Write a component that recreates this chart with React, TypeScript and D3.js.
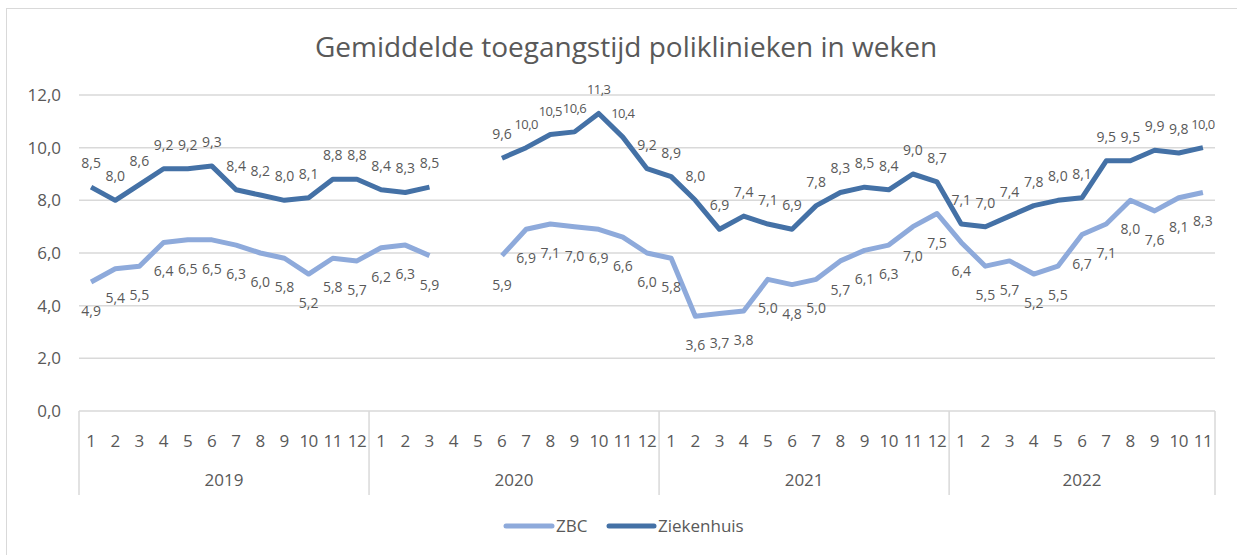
import React from 'react';
import * as d3 from 'd3';

const years = ['2019', '2020', '2021', '2022'];
const monthsPerYear = [12, 12, 12, 11];

// null = geen meting (april/mei 2020)
const ziekenhuis: (number | null)[] = [
  8.5, 8.0, 8.6, 9.2, 9.2, 9.3, 8.4, 8.2, 8.0, 8.1, 8.8, 8.8,
  8.4, 8.3, 8.5, null, null, 9.6, 10.0, 10.5, 10.6, 11.3, 10.4, 9.2,
  8.9, 8.0, 6.9, 7.4, 7.1, 6.9, 7.8, 8.3, 8.5, 8.4, 9.0, 8.7,
  7.1, 7.0, 7.4, 7.8, 8.0, 8.1, 9.5, 9.5, 9.9, 9.8, 10.0,
];
const zbc: (number | null)[] = [
  4.9, 5.4, 5.5, 6.4, 6.5, 6.5, 6.3, 6.0, 5.8, 5.2, 5.8, 5.7,
  6.2, 6.3, 5.9, null, null, 5.9, 6.9, 7.1, 7.0, 6.9, 6.6, 6.0,
  5.8, 3.6, 3.7, 3.8, 5.0, 4.8, 5.0, 5.7, 6.1, 6.3, 7.0, 7.5,
  6.4, 5.5, 5.7, 5.2, 5.5, 6.7, 7.1, 8.0, 7.6, 8.1, 8.3,
];
const yTicks = [0, 2, 4, 6, 8, 10, 12];

const W = 1237;
const H = 555;
const plot = { left: 79, right: 1215, top: 95, bottom: 411 };
const font = "'Open Sans', 'Noto Sans', sans-serif";
const textColor = '#595959';
const gridColor = '#d9d9d9';
const colZbc = '#8eaadb';
const colZh = '#4471a6';

const fmt = (v: number) => v.toFixed(1).replace('.', ',');

const App: React.FC = () => {
  const categories: { year: string; month: number; idx: number }[] = [];
  years.forEach((y, yi) => {
    for (let m = 1; m <= monthsPerYear[yi]; m++) {
      categories.push({ year: y, month: m, idx: categories.length });
    }
  });

  const x = d3
    .scaleBand<number>()
    .domain(categories.map((c) => c.idx))
    .range([plot.left, plot.right])
    .padding(0);
  const bw = x.bandwidth();
  const cx = (i: number) => (x(i) as number) + bw / 2;

  const y = d3.scaleLinear().domain([0, 12]).range([plot.bottom, plot.top]);

  const line = d3
    .line<number | null>()
    .defined((d) => d != null)
    .x((_, i) => cx(i))
    .y((d) => y(d as number));

  // year group boundaries
  let acc = 0;
  const yearSpans = years.map((yr, yi) => {
    const start = acc;
    acc += monthsPerYear[yi];
    return { yr, x0: x(start) as number, x1: (x(acc - 1) as number) + bw };
  });

  const series = [
    { name: 'ZBC', values: zbc, color: colZbc, above: false },
    { name: 'Ziekenhuis', values: ziekenhuis, color: colZh, above: true },
  ];

  return (
    <svg
      width={W}
      height={H}
      style={{ position: 'absolute', left: 0, top: 0, background: '#fff' }}
      fontFamily={font}
    >
      <rect x={6.5} y={8.5} width={W + 10} height={H + 10} fill="#fff" stroke={gridColor} />

      <text x={626} y={57} textAnchor="middle" fontSize={28} fill={textColor}>
        Gemiddelde toegangstijd poliklinieken in weken
      </text>

      {/* gridlines + y labels */}
      {yTicks.map((t) => (
        <g key={t}>
          <line x1={plot.left} x2={plot.right} y1={y(t)} y2={y(t)} stroke={gridColor} strokeWidth={1.5} />
          <text x={61} y={y(t) + 6} textAnchor="end" fontSize={17} fill={textColor}>
            {fmt(t)}
          </text>
        </g>
      ))}

      {/* category axis */}
      {categories.map((c) => (
        <text key={c.idx} x={cx(c.idx)} y={447} textAnchor="middle" fontSize={17} fill={textColor}
          letterSpacing={c.month >= 10 ? -0.5 : 0}>
          {c.month}
        </text>
      ))}
      {yearSpans.map((s) => (
        <g key={s.yr}>
          <line x1={s.x0} x2={s.x0} y1={plot.bottom} y2={495} stroke={gridColor} strokeWidth={1.5} />
          <text x={(s.x0 + s.x1) / 2} y={486} textAnchor="middle" fontSize={17} fill={textColor}>
            {s.yr}
          </text>
        </g>
      ))}
      <line x1={plot.right} x2={plot.right} y1={plot.bottom} y2={495} stroke={gridColor} strokeWidth={1.5} />

      {/* lines */}
      {series.map((s) => (
        <path
          key={s.name}
          d={line(s.values) || ''}
          fill="none"
          stroke={s.color}
          strokeWidth={5}
          strokeLinejoin="round"
        />
      ))}

      {/* data labels */}
      {series.map((s) =>
        s.values.map((v, i) =>
          v == null ? null : (
            <text
              key={s.name + i}
              x={cx(i)}
              y={s.above ? y(v) - 19 : y(v) + 34}
              textAnchor="middle"
              fontSize={v >= 10 ? 13 : 14}
              letterSpacing={v >= 10 ? -0.6 : 0}
              fill={textColor}
            >
              {fmt(v)}
            </text>
          )
        )
      )}

      {/* legend */}
      <line x1={506} x2={552} y1={526} y2={526} stroke={colZbc} strokeWidth={5} strokeLinecap="round" />
      <text x={556} y={532} fontSize={17} fill={textColor}>ZBC</text>
      <line x1={609} x2={654} y1={526} y2={526} stroke={colZh} strokeWidth={5} strokeLinecap="round" />
      <text x={658} y={532} fontSize={17} fill={textColor}>Ziekenhuis</text>
    </svg>
  );
};

export default App;
